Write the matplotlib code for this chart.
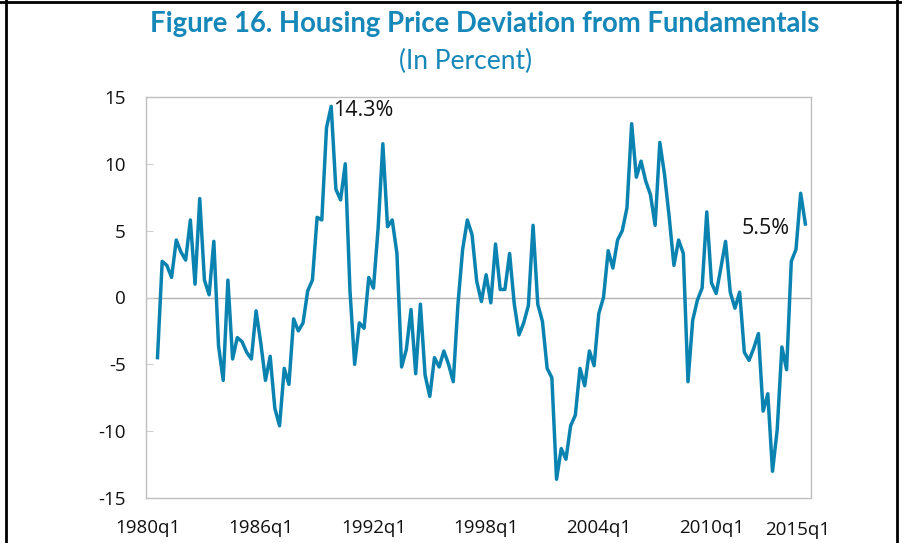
import matplotlib
matplotlib.use('Agg')
import matplotlib.pyplot as plt
from matplotlib.lines import Line2D
from matplotlib.transforms import offset_copy
import numpy as np

# Quarterly data, 1980q3 .. 2015q1 (index 0 = 1980q1)
start_index = 2
deviation = [
    -4.5, 2.7, 2.4, 1.5, 4.3, 3.4, 2.8, 5.8, 1.0, 7.4,
    1.3, 0.2, 4.2, -3.6, -6.2, 1.3, -4.6, -3.0, -3.3, -4.1,
    -4.6, -1.0, -3.4, -6.2, -4.4, -8.3, -9.6, -5.3, -6.5, -1.6,
    -2.5, -1.9, 0.5, 1.3, 6.0, 5.8, 12.7, 14.3, 8.1, 7.3,
    10.0, 0.5, -5.0, -1.9, -2.3, 1.5, 0.7, 5.2, 11.5, 5.3,
    5.8, 3.3, -5.2, -3.9, -0.9, -5.7, -0.5, -5.8, -7.4, -4.5,
    -5.2, -4.0, -5.0, -6.3, -0.5, 3.6, 5.8, 4.7, 1.2, -0.3,
    1.7, -0.4, 4.0, 0.6, 0.6, 3.3, -0.5, -2.8, -1.9, -0.6,
    5.4, -0.5, -1.8, -5.3, -6.0, -13.6, -11.3, -12.1, -9.6, -8.8,
    -5.3, -6.6, -4.0, -5.1, -1.2, 0.0, 3.5, 2.2, 4.3, 5.0,
    6.7, 13.0, 9.0, 10.2, 8.7, 7.7, 5.4, 11.6, 9.2, 6.0,
    2.4, 4.3, 3.3, -6.3, -1.7, -0.2, 0.7, 6.4, 1.1, 0.3,
    2.2, 4.2, 0.4, -0.8, 0.4, -4.1, -4.7, -3.8, -2.7, -8.5,
    -7.2, -13.0, -9.9, -3.7, -5.4, 2.7, 3.6, 7.8, 5.5,
]
tick_positions = [0, 24, 48, 72, 96, 120]
tick_labels = ['1980q1', '1986q1', '1992q1', '1998q1', '2004q1', '2010q1']
last_label = '2015q1'
last_label_pos = 138.3
y_ticks = [-15, -10, -5, 0, 5, 10, 15]
peak_label = '14.3%'
end_label = '5.5%'

LINE = '#0b83b1'
TITLE = '#1587b8'
GRAY = '#bfbfbf'

plt.rcParams['font.family'] = ['Open Sans', 'DejaVu Sans']

fig = plt.figure(figsize=(9.03, 5.43), dpi=100)
ax = fig.add_axes([146.5 / 903, 1 - 498 / 543, (811 - 146.5) / 903, (498 - 97) / 543])

x = np.arange(len(deviation)) + start_index
ax.plot(x, deviation, color=LINE, lw=2.5, solid_joinstyle='round', zorder=3)
ax.axhline(0, color='#b3b3b3', lw=1.0, zorder=1)

ax.set_xlim(-0.34, 141.2)
ax.set_ylim(-15, 15)
ax.set_yticks(y_ticks)
ax.set_yticklabels([str(v) for v in y_ticks])
ax.set_xticks(tick_positions)
ax.set_xticklabels(tick_labels)
ax.tick_params(axis='y', direction='in', length=5, width=0.8, color='#d0d0d0',
               labelsize=13.5, pad=15, labelcolor='#111111')
ax.tick_params(axis='x', length=0, labelsize=13.5, pad=15, labelcolor='#111111')
for s in ax.spines.values():
    s.set_color(GRAY)
    s.set_linewidth(1.0)

ax.text(last_label_pos, -15, last_label, ha='center', va='top',
        fontsize=13.5, color='#111111',
        transform=offset_copy(ax.transData, fig=fig, x=0, y=-23, units='dots'))

peak_i = int(np.argmax(deviation))
ax.annotate(peak_label, xy=(x[peak_i], deviation[peak_i]), xytext=(1, -3),
            textcoords='offset points', ha='left', va='center', fontsize=15.5, color='#111111')
ax.annotate(end_label, xy=(x[-1], deviation[-1]), xytext=(-11, -3),
            textcoords='offset points', ha='right', va='center', fontsize=15.5, color='#111111')

fig.text(485 / 903, 1 - 24 / 543, 'Figure 16. Housing Price Deviation from Fundamentals',
         ha='center', va='center', fontsize=19.8, fontweight='bold', color=TITLE,
         family=['Lato', 'DejaVu Sans'])
fig.text(466 / 903, 1 - 61 / 543, '(In Percent)', ha='center', va='center',
         fontsize=19, color=TITLE, family=['Lato', 'DejaVu Sans'])

# frame lines of the original picture
fig.add_artist(Line2D([6 / 903, 6 / 903], [0, 1], transform=fig.transFigure, color='black', lw=2))
fig.add_artist(Line2D([0, 1], [1 - 1.5 / 543, 1 - 1.5 / 543], transform=fig.transFigure, color='black', lw=2))
fig.add_artist(Line2D([897 / 903, 897 / 903], [0, 1], transform=fig.transFigure, color='black', lw=2))

fig.savefig('out.png', dpi=100)
